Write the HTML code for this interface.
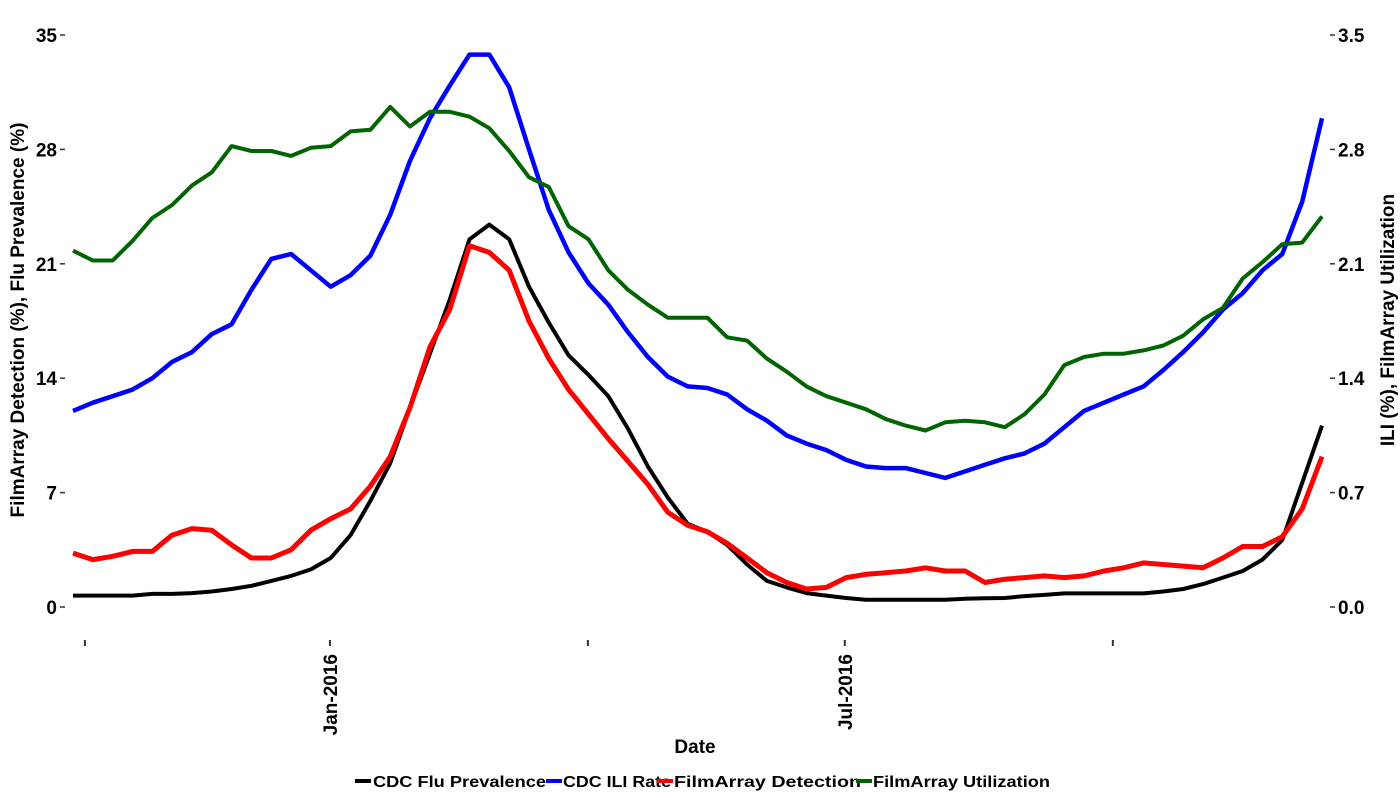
<!DOCTYPE html>
<html><head><meta charset="utf-8"><style>
html,body{margin:0;padding:0;background:#fff;}
svg{display:block;font-family:"Liberation Sans",Arial,sans-serif;font-weight:bold;}
</style></head><body>
<svg id="chart" width="1400" height="800" viewBox="0 0 1400 800">
<g id="axes"></g>
<g id="series"></g>
<text x="695" y="753" text-anchor="middle" font-size="19">Date</text>
<text transform="translate(24,320) rotate(-90)" text-anchor="middle" font-size="19">FilmArray Detection (%), Flu Prevalence (%)</text>
<text transform="translate(1394,320) rotate(-90)" text-anchor="middle" font-size="19">ILI (%), FilmArray Utilization</text>
<g id="legend">
<g><line x1="355" y1="781" x2="371" y2="781" stroke="#000" stroke-width="4"/><text x="373" y="787" font-size="16" textLength="173" lengthAdjust="spacingAndGlyphs">CDC Flu Prevalence</text></g>
<g><line x1="546" y1="781" x2="562" y2="781" stroke="#0000ff" stroke-width="4"/><text x="563" y="787" font-size="16" textLength="108" lengthAdjust="spacingAndGlyphs">CDC ILI Rate</text></g>
<g><line x1="657" y1="781" x2="673" y2="781" stroke="#ff0000" stroke-width="4"/><text x="674" y="787" font-size="16" textLength="187" lengthAdjust="spacingAndGlyphs">FilmArray Detection</text></g>
<g><line x1="856" y1="781" x2="872" y2="781" stroke="#006400" stroke-width="4"/><text x="873" y="787" font-size="16" textLength="177" lengthAdjust="spacingAndGlyphs">FilmArray Utilization</text></g>
</g>
</svg>
<script>
const fluPrevalence=[0.7,0.7,0.7,0.7,0.8,0.8,0.85,0.95,1.1,1.3,1.6,1.9,2.3,3.0,4.4,6.5,8.8,12.2,15.5,18.8,22.5,23.4,22.5,19.6,17.4,15.4,14.2,12.9,10.9,8.6,6.7,5.1,4.6,3.8,2.6,1.6,1.2,0.85,0.7,0.55,0.44,0.44,0.44,0.44,0.44,0.5,0.53,0.55,0.67,0.74,0.83,0.83,0.83,0.83,0.83,0.95,1.1,1.4,1.8,2.2,2.9,4.1,7.6,11.1];
const iliRate=[1.20,1.25,1.29,1.33,1.40,1.50,1.56,1.67,1.73,1.94,2.13,2.16,2.06,1.96,2.03,2.15,2.40,2.73,2.99,3.19,3.38,3.38,3.18,2.80,2.43,2.17,1.98,1.85,1.68,1.53,1.41,1.35,1.34,1.30,1.21,1.14,1.05,1.00,0.96,0.90,0.86,0.85,0.85,0.82,0.79,0.83,0.87,0.91,0.94,1.00,1.10,1.20,1.25,1.30,1.35,1.45,1.56,1.68,1.82,1.92,2.06,2.16,2.48,2.99];
const detection=[3.3,2.9,3.1,3.4,3.4,4.4,4.8,4.7,3.8,3.0,3.0,3.5,4.7,5.4,6.0,7.4,9.2,12.2,15.9,18.2,22.1,21.7,20.6,17.5,15.2,13.3,11.8,10.3,8.9,7.5,5.8,5.0,4.6,3.9,3.0,2.1,1.5,1.1,1.2,1.8,2.0,2.1,2.2,2.4,2.2,2.2,1.5,1.7,1.8,1.9,1.8,1.9,2.2,2.4,2.7,2.6,2.5,2.4,3.0,3.7,3.7,4.3,6.0,9.2];
const utilization=[2.18,2.12,2.12,2.24,2.38,2.46,2.58,2.66,2.82,2.79,2.79,2.76,2.81,2.82,2.91,2.92,3.06,2.94,3.03,3.03,3.00,2.93,2.79,2.63,2.57,2.33,2.25,2.06,1.94,1.85,1.77,1.77,1.77,1.65,1.63,1.52,1.44,1.35,1.29,1.25,1.21,1.15,1.11,1.08,1.13,1.14,1.13,1.10,1.18,1.30,1.48,1.53,1.55,1.55,1.57,1.60,1.66,1.76,1.83,2.01,2.11,2.22,2.23,2.39];
const leftTicks=[0,7,14,21,28,35];
const rightTicks=[0.0,0.7,1.4,2.1,2.8,3.5];
const rightTickLabels=["0.0","0.7","1.4","2.1","2.8","3.5"];
const xTickIdx=[0.6,12.96,25.97,38.93,52.45];
const xTickLabels=["","Jan-2016","","Jul-2016",""];

const NS="http://www.w3.org/2000/svg";
const X0=73,X1=1322,Y0=607,Y1=35;
const n=fluPrevalence.length;
function xs(i){return X0+(X1-X0)*i/(n-1);}
function yl(v){return Y0-(Y0-Y1)*v/35;}
function yr(v){return Y0-(Y0-Y1)*v/3.5;}
function mk(tag,attrs,parent){const e=document.createElementNS(NS,tag);for(const k in attrs)e.setAttribute(k,attrs[k]);parent.appendChild(e);return e;}
const axes=document.getElementById('axes'),series=document.getElementById('series');
leftTicks.forEach((v,k)=>{
  const t=mk('line',{x1:60,x2:65,y1:yl(v),y2:yl(v),stroke:'#333','stroke-width':1.5},axes);
  
  
  const l=mk('text',{x:57,y:yl(v)+7,'text-anchor':'end','font-size':19},axes);
  l.textContent=String(v);
  
  
});
rightTicks.forEach((v,k)=>{
  const t=mk('line',{x1:1330,x2:1335,y1:yr(v),y2:yr(v),stroke:'#333','stroke-width':1.5},axes);
  
  
  const l=mk('text',{x:1338,y:yr(v)+7,'text-anchor':'start','font-size':19},axes);
  l.textContent=rightTickLabels[k];
  
  
});
xTickIdx.forEach((ix,k)=>{
  const x=xs(ix);
  const t=mk('line',{x1:x,x2:x,y1:640,y2:646,stroke:'#333','stroke-width':2},axes);
  
  
  if(xTickLabels[k]){
    const l=mk('text',{transform:`translate(${x+7},654) rotate(-90)`,'text-anchor':'end','font-size':19},axes);
    l.textContent=xTickLabels[k];
    
    
  }
});
function drawLine(arr,yf,color,w,name){
  const d=arr.map((v,i)=>(i?'L':'M')+xs(i).toFixed(1)+','+yf(v).toFixed(1)).join(' ');
  const p=mk('path',{d:d,fill:'none',stroke:color,'stroke-width':w,'stroke-linejoin':'round'},series);
  
  
}
drawLine(fluPrevalence,yl,'#000',4,'cdc-flu-prevalence-line');
drawLine(iliRate,yr,'#0000ff',4.5,'cdc-ili-rate-line');
drawLine(detection,yl,'#ff0000',5,'filmarray-detection-line');
drawLine(utilization,yr,'#006400',4,'filmarray-utilization-line');
</script>
</body></html>
